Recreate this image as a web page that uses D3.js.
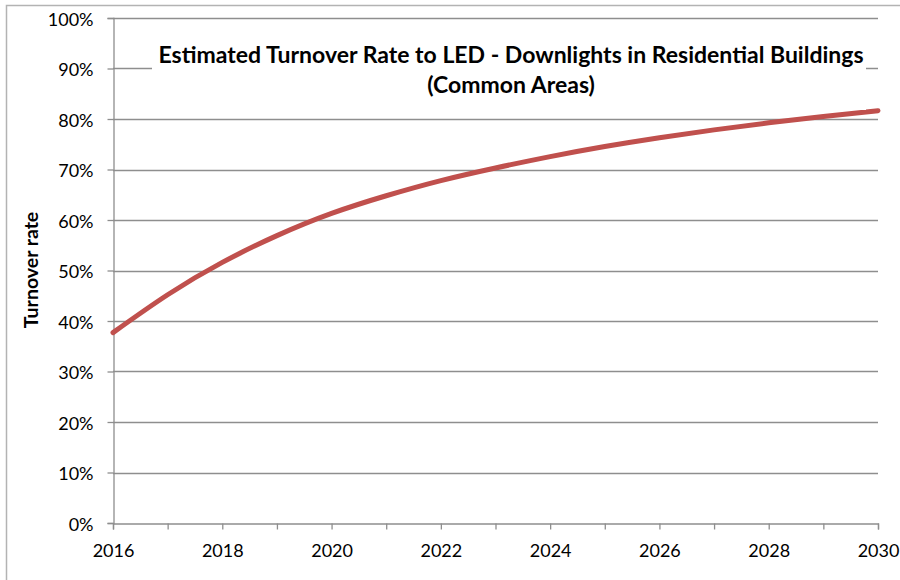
<!DOCTYPE html>
<html>
<head>
<meta charset="utf-8">
<script src="https://cdn.jsdelivr.net/npm/d3@7"></script>
<style>
  body { margin: 0; background: #fff; }
  svg { font-family: Lato, "Open Sans", sans-serif; }
</style>
</head>
<body>
<script>
// data
const years = [2016, 2017, 2018, 2019, 2020, 2021, 2022, 2023, 2024, 2025, 2026, 2027, 2028, 2029, 2030];
const turnover = [0.377, 0.452, 0.516, 0.569, 0.613, 0.648, 0.678, 0.703, 0.7255, 0.7455, 0.763, 0.7785, 0.7925, 0.805, 0.8165];
const yTicks = [0, 0.1, 0.2, 0.3, 0.4, 0.5, 0.6, 0.7, 0.8, 0.9, 1];
const xTicks = [2016, 2018, 2020, 2022, 2024, 2026, 2028, 2030];
const titleLines = ["Estimated Turnover Rate to LED - Downlights in Residential Buildings", "(Common Areas)"];

let width = 900, height = 580;
let plotLeft = 113, plotRight = 878, plotTop = 18, plotBottom = 523;

let x = d3.scaleLinear().domain([2016, 2030]).range([plotLeft, plotRight]);
let y = d3.scaleLinear().domain([0, 1]).range([plotBottom, plotTop]);

const svg = d3.select("body")
        .append("svg")
        .attr("width", width)
        .attr("height", height);

// outer chart border
svg.append("rect")
        .attr("x", 6.5).attr("y", 5.5)
        .attr("width", 920).attr("height", 600)
        .attr("fill", "none")
        .attr("stroke", "#b3b3b3")
        .attr("stroke-width", 1.5);

// gridlines
svg.append("g")
        .selectAll("line")
        .data(yTicks.slice(1))
        .enter()
        .append("line")
        .attr("x1", plotLeft).attr("x2", plotRight)
        .attr("y1", d => Math.round(y(d)) + 0.5)
        .attr("y2", d => Math.round(y(d)) + 0.5)
        .attr("stroke", "#8e8e8e")
        .attr("stroke-width", 1.3);

// y axis
let yAxis = d3.axisLeft(y).tickValues(yTicks).tickFormat(d3.format(".0%")).tickSize(6).tickPadding(14);
let gy = svg.append("g")
        .attr("transform", `translate(${plotLeft + 0.5},0)`)
        .call(yAxis);
gy.select(".domain").attr("stroke", "#8e8e8e").attr("stroke-width", 1.3);
gy.selectAll(".tick line").attr("stroke", "#8e8e8e").attr("stroke-width", 1.3);
gy.selectAll(".tick text")
        .attr("dy", "0.4em")
        .style("font-size", "18px")
        .style("font-family", "Lato, sans-serif")
        .attr("fill", "#000");

// x axis, a tick every year, labels every other year
let xAxis = d3.axisBottom(x).tickValues(years).tickFormat(d => xTicks.includes(d) ? d : "").tickSize(6).tickPadding(15);
let gx = svg.append("g")
        .attr("transform", `translate(0,${plotBottom + 0.5})`)
        .call(xAxis);
gx.select(".domain").attr("stroke", "#8e8e8e").attr("stroke-width", 1.3);
gx.selectAll(".tick line").attr("stroke", "#8e8e8e").attr("stroke-width", 1.3);
gx.selectAll(".tick text")
        .style("font-size", "18px")
        .style("font-family", "Lato, sans-serif")
        .attr("fill", "#000");

// y axis title
svg.append("text")
        .attr("transform", "translate(38,270) rotate(-90)")
        .style("text-anchor", "middle")
        .style("font-size", "19.5px")
        .style("font-weight", "bold")
        .text("Turnover rate");

// the series
let line = d3.line()
        .x((d, i) => x(years[i]))
        .y(d => y(d))
        .curve(d3.curveNatural);

svg.append("path")
        .datum(turnover)
        .attr("d", line)
        .attr("fill", "none")
        .attr("stroke", "#c0504d")
        .attr("stroke-width", 5)
        .attr("stroke-linecap", "round");

// title with white box behind it
svg.append("rect")
        .attr("x", 152).attr("y", 32)
        .attr("width", 714).attr("height", 78)
        .attr("fill", "#fff");

svg.append("g")
        .selectAll("text")
        .data(titleLines)
        .enter()
        .append("text")
        .attr("x", 511)
        .attr("y", (d, i) => 63 + i * 30)
        .style("text-anchor", "middle")
        .style("font-size", "23px")
        .style("font-weight", "bold")
        .text(d => d);
</script>
</body>
</html>
